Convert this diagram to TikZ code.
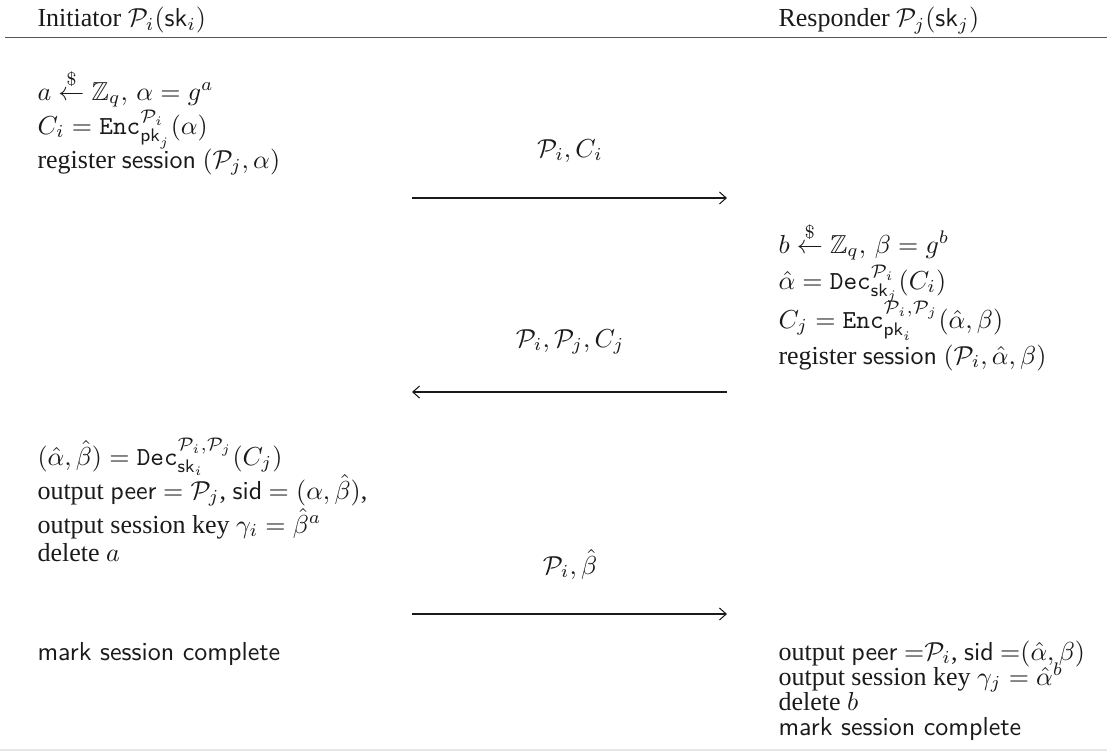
\documentclass[tikz,border=0pt]{standalone}
\usepackage{amsmath,amssymb}
\usepackage[no-math]{fontspec}
\setmainfont{Liberation Serif}
\usetikzlibrary{arrows.meta}
\definecolor{ink}{HTML}{1A1A1A}
\definecolor{rulegray}{HTML}{555555}
\definecolor{edgegray}{HTML}{E6E6E6}
\newcommand{\ssf}[1]{\text{\sffamily #1}}
\newcommand{\samp}{\mathrel{\overset{\$}{\leftarrow}}}
\tikzset{
  txt/.style={anchor=base west, inner sep=0pt, text=ink, font=\fontsize{10}{12}\selectfont},
  lbl/.style={anchor=base, inner sep=0pt, text=ink, font=\fontsize{10}{12}\selectfont},
  msg/.style={draw=ink, line width=0.4pt, -{Straight Barb[length=2.6pt,width=4.6pt,line width=0.4pt]}},
}
\begin{document}
\begin{tikzpicture}[x=0.3846pt, y=-0.3846pt]
\useasboundingbox (0,0) rectangle (1107,753);
% header
\node[txt] (hI) at (37,27) {Initiator $\mathcal{P}_i(\ssf{sk}_i)$};
\node[txt] (hR) at (778,27) {Responder $\mathcal{P}_j(\ssf{sk}_j)$};
\coordinate (ruleL) at (5,37.5);
\coordinate (ruleR) at (1107,37.5);
\draw[rulegray, line width=0.7pt] (ruleL) -- (ruleR);
% left block 1
\node[txt] (l1a) at (37,100) {$a \samp \mathbb{Z}_q,\, \alpha = g^a$};
\node[txt] (l1b) at (37,134) {$C_i = \mathtt{Enc}^{\mathcal{P}_i}_{\ssf{pk}_j}(\alpha)$};
\node[txt] (l1c) at (37,168) {register \textsf{session} $(\mathcal{P}_j,\alpha)$};
% message 1
\node[lbl] (m1) at (570,157) {$\mathcal{P}_i, C_i$};
\coordinate (a1s) at (412,198);
\coordinate (a1e) at (727,198);
\draw[msg] (a1s) -- (a1e);
% right block 1
\node[txt] (r1a) at (778,253) {$b \samp \mathbb{Z}_q,\, \beta = g^b$};
\node[txt] (r1b) at (778,289) {$\hat{\alpha} = \mathtt{Dec}^{\mathcal{P}_i}_{\ssf{sk}_j}(C_i)$};
\node[txt] (r1c) at (778,328) {$C_j = \mathtt{Enc}^{\mathcal{P}_i,\mathcal{P}_j}_{\ssf{pk}_i}(\hat{\alpha},\beta)$};
\node[txt] (r1d) at (778,364) {register \textsf{session} $(\mathcal{P}_i,\hat{\alpha},\beta)$};
% message 2
\node[lbl] (m2) at (570,347) {$\mathcal{P}_i, \mathcal{P}_j, C_j$};
\coordinate (a2s) at (727,392);
\coordinate (a2e) at (412,392);
\draw[msg] (a2s) -- (a2e);
% left block 2
\node[txt] (l2a) at (37,465) {$(\hat{\alpha},\hat{\beta}) = \mathtt{Dec}^{\mathcal{P}_i,\mathcal{P}_j}_{\ssf{sk}_i}(C_j)$};
\node[txt] (l2b) at (37,499) {output \textsf{peer} $= \mathcal{P}_j$, \textsf{sid} $= (\alpha,\hat{\beta})$,};
\node[txt] (l2c) at (37,533) {output session key $\gamma_i = \hat{\beta}^a$};
\node[txt] (l2d) at (37,561) {delete $a$};
% message 3
\node[lbl] (m3) at (570,574) {$\mathcal{P}_i, \hat{\beta}$};
\coordinate (a3s) at (412,614);
\coordinate (a3e) at (727,614);
\draw[msg] (a3s) -- (a3e);
% final rows
\node[txt] (l3a) at (37,660) {\textsf{mark session complete}};
\node[txt] (r2a) at (778,660) {output \textsf{peer} ${=}\mathcal{P}_i$, \textsf{sid} ${=}(\hat{\alpha},\beta)$};
\node[txt] (r2b) at (778,685) {output session key $\gamma_j = \hat{\alpha}^b$};
\node[txt] (r2c) at (778,710) {delete $b$};
\node[txt] (r2d) at (778,735) {\textsf{mark session complete}};
% bottom edge
\coordinate (botL) at (0,750);
\coordinate (botR) at (1107,750);
\draw[edgegray, line width=0.8pt] (botL) -- (botR);
\end{tikzpicture}
\end{document}
